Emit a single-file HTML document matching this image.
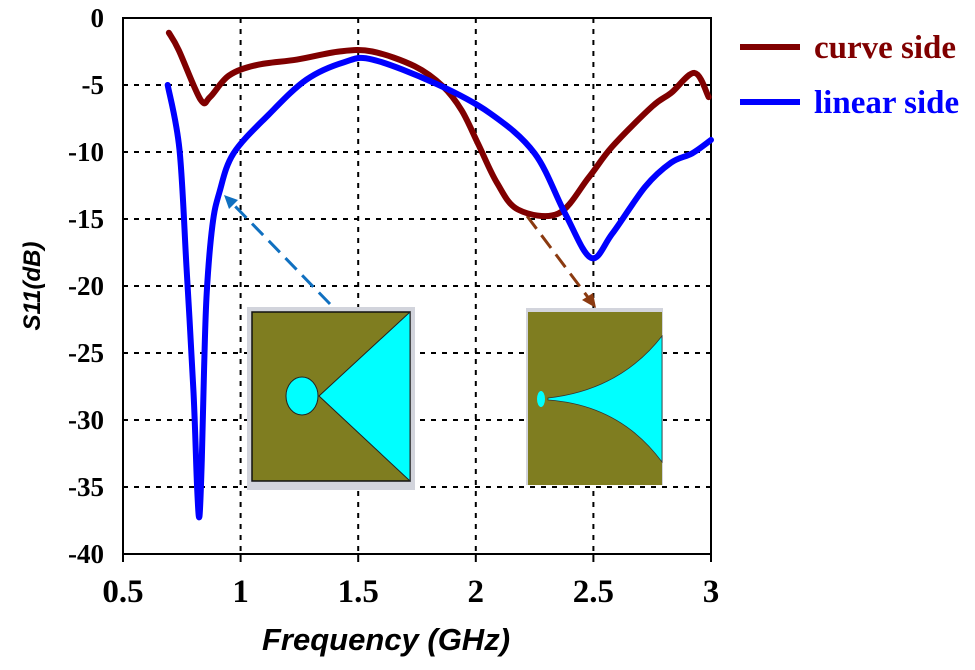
<!DOCTYPE html>
<html><head><meta charset="utf-8"><style>
body{margin:0;background:#fff;}
svg text{font-family:"Liberation Serif",serif;}
</style></head><body>
<svg id="chart" width="975" height="665" viewBox="0 0 975 665" xmlns="http://www.w3.org/2000/svg">
<g id="grid"></g>
<g id="axes"></g>
<g id="insets">
  <g>
    <rect x="247" y="307" width="168" height="183" fill="#d2d4dc"/>
    <rect x="252" y="312" width="158" height="169" fill="#7f7d20" stroke="#111" stroke-width="1.5"/>
    <polygon points="319,396 410,312 410,481" fill="#00ffff" stroke="#222" stroke-width="1"/>
    <ellipse cx="302" cy="396" rx="16" ry="19" fill="#00ffff" stroke="#222" stroke-width="1"/>
  </g>
  <g>
    <rect x="526" y="308" width="137" height="177" fill="#d2d4dc"/>
    <rect x="528" y="312" width="134" height="173" fill="#7f7d20"/>
    <path d="M548,398 Q620,390 662,336 L662,462 Q620,405 548,400 Z" fill="#00ffff" stroke="#333" stroke-width="0.8"/>
    <ellipse cx="541" cy="399" rx="4" ry="8" fill="#00ffff"/>
  </g>
</g>
<g>
  <line x1="330" y1="304" x2="232" y2="203" stroke="#1070c0" stroke-width="3" stroke-dasharray="16,8"/>
  <polygon points="224,195 238,200 229,209" fill="#1070c0"/>
  <line x1="527" y1="216" x2="590" y2="300" stroke="#8b3a10" stroke-width="3" stroke-dasharray="16,8"/>
  <polygon points="596,308 582,300 593,293" fill="#8b3a10"/>
</g>
<g id="series"></g>
<g>
  <line x1="740" y1="47" x2="800" y2="47" stroke="#800000" stroke-width="6"/>
  <text x="814" y="58" font-size="33" font-weight="bold" fill="#800000">curve side</text>
  <line x1="740" y1="102" x2="800" y2="102" stroke="#0000ff" stroke-width="6"/>
  <text x="814" y="113" font-size="33" font-weight="bold" fill="#0000ff">linear side</text>
</g>
<text x="386" y="650" text-anchor="middle" font-size="31" font-weight="bold" font-style="italic" style="font-family:'Liberation Sans',sans-serif">Frequency (GHz)</text>
<text transform="translate(40,286) rotate(-90)" text-anchor="middle" font-size="24" font-weight="bold" font-style="italic" style="font-family:'Liberation Sans',sans-serif">S11(dB)</text>
</svg>
<script>
const xTicks=[0.5,1,1.5,2,2.5,3];
const yTicks=[0,-5,-10,-15,-20,-25,-30,-35,-40];
const curveF=[0.695,0.737,0.83,0.87,0.95,1.07,1.24,1.42,1.56,1.74,1.86,1.94,2.01,2.09,2.18,2.35,2.48,2.58,2.75,2.83,2.93,2.99];
const curveDB=[-1.1,-2.4,-6.1,-5.9,-4.3,-3.5,-3.1,-2.5,-2.5,-3.6,-5.1,-6.9,-9.4,-12.3,-14.3,-14.6,-11.9,-9.6,-6.6,-5.6,-4.1,-5.9];
const linearF=[0.69,0.74,0.77,0.80,0.815,0.825,0.835,0.845,0.856,0.88,0.91,0.97,1.12,1.28,1.44,1.56,1.83,2.06,2.25,2.38,2.49,2.58,2.72,2.83,2.92,3.0];
const linearDB=[-5,-9.8,-18.6,-28,-35,-37.2,-33,-26,-20.5,-15.5,-13,-10.1,-7.2,-4.6,-3.3,-3.1,-4.9,-7.1,-10.1,-14.6,-17.9,-16.1,-12.6,-10.8,-10.1,-9.1];

const X0=123,X1=711,Y0=18,Y1=554;
function sx(f){return X0+(f-0.5)/2.5*(X1-X0);}
function sy(d){return Y0+(-d)/40*(Y1-Y0);}
const NS="http://www.w3.org/2000/svg";
function mk(tag,attrs,parent){const e=document.createElementNS(NS,tag);for(const k in attrs)e.setAttribute(k,attrs[k]);parent.appendChild(e);return e;}
const grid=document.getElementById('grid'),axes=document.getElementById('axes'),series=document.getElementById('series');
xTicks.forEach(t=>{
  if(t>0.5&&t<3){const l=mk('line',{x1:sx(t),x2:sx(t),y1:Y0,y2:Y1,stroke:'#000','stroke-width':2,'stroke-dasharray':'5,6'},grid);
  
  }
  const tk=mk('line',{x1:sx(t),x2:sx(t),y1:Y1,y2:Y1+8,stroke:'#000','stroke-width':2},axes);
  
  
  const tx=mk('text',{x:sx(t),y:602,'text-anchor':'middle','font-size':33,'font-weight':'bold'},axes);
  tx.textContent=String(t);
  
  
});
yTicks.forEach(t=>{
  if(t<0&&t>-40){const l=mk('line',{x1:X0,x2:X1,y1:sy(t),y2:sy(t),stroke:'#000','stroke-width':2,'stroke-dasharray':'5,6'},grid);
  
  }
  const tx=mk('text',{x:104,y:sy(t)+9,'text-anchor':'end','font-size':27,'font-weight':'bold'},axes);
  tx.textContent=String(t);
  
  
});
const frame=mk('rect',{x:X0,y:Y0,width:X1-X0,height:Y1-Y0,fill:'none',stroke:'#000','stroke-width':2},axes);


function smoothPath(F,D){
  const P=F.map((f,i)=>[sx(f),sy(D[i])]);
  let d='M'+P[0][0]+','+P[0][1];
  for(let i=0;i<P.length-1;i++){
    const p0=P[i-1]||P[i],p1=P[i],p2=P[i+1],p3=P[i+2]||p2;
    const c1=[p1[0]+(p2[0]-p0[0])/6,p1[1]+(p2[1]-p0[1])/6];
    const c2=[p2[0]-(p3[0]-p1[0])/6,p2[1]-(p3[1]-p1[1])/6];
    d+=' C'+c1[0]+','+c1[1]+' '+c2[0]+','+c2[1]+' '+p2[0]+','+p2[1];
  }
  return d;
}
function line(F,D,color,name){
  const p=mk('path',{d:smoothPath(F,D),fill:'none',stroke:color,'stroke-width':6,'stroke-linejoin':'round','stroke-linecap':'round'},series);
  
  
}
line(curveF,curveDB,'#800000','curve-side-line');
line(linearF,linearDB,'#0000ff','linear-side-line');
</script>
</body></html>
